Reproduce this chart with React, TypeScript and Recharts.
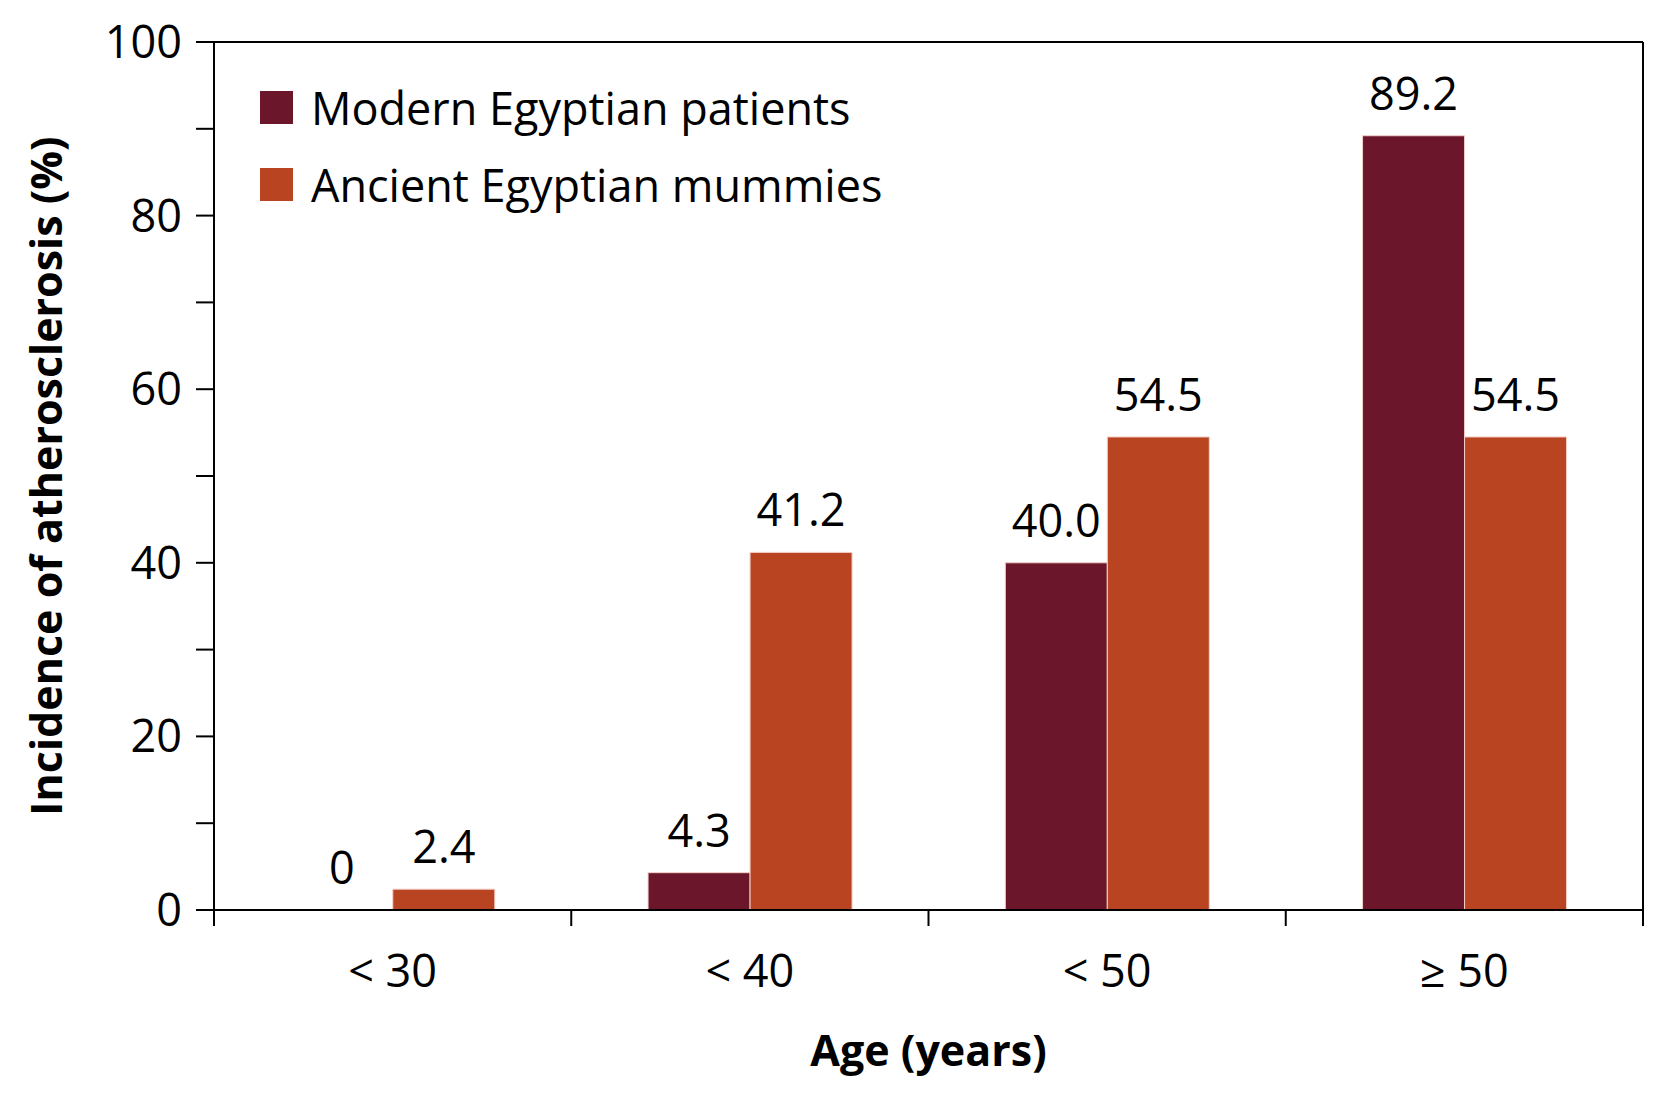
import { BarChart, Bar, XAxis, YAxis, Legend, LabelList, Cell } from 'recharts';

const ageGroups = ['< 30', '< 40', '< 50', '≥ 50'];
const modernPatients = [0, 4.3, 40.0, 89.2];
const ancientMummies = [2.4, 41.2, 54.5, 54.5];
const seriesNames = ['Modern Egyptian patients', 'Ancient Egyptian mummies'];
const yTicks = [0, 10, 20, 30, 40, 50, 60, 70, 80, 90, 100];
const groupEdges = [0, 1, 2, 3, 4];

const data = ageGroups.map((age, i) => ({
  age,
  modern: modernPatients[i],
  ancient: ancientMummies[i],
}));

const MODERN = '#6C162B';
const ANCIENT = '#B94422';
const EDGE = '#f3d0c8';
const FONT = '"Open Sans", sans-serif';

const fmtValue = (v: number) => (v === 0 ? '0' : v.toFixed(1));
// keep zero bars in the layout so their "0" label is still drawn
const keepZero = (v: number) => (v === 0 ? 0.5 : 0);
// group index on a continuous scale, used only for the boundary ticks
const groupIndex = (d: any) => ageGroups.indexOf(d.age) + 0.5;

function renderLegend(props: any) {
  const payload = [...(props.payload || [])].sort(
    (a: any, b: any) => seriesNames.indexOf(a.value) - seriesNames.indexOf(b.value)
  );
  return (
    <div style={{ fontFamily: FONT, fontSize: 45, color: '#000' }}>
      {payload.map((entry: any) => (
        <div key={entry.value} style={{ display: 'flex', alignItems: 'center', height: 77 }}>
          <span style={{ width: 33, height: 33, background: entry.color, marginRight: 18, display: 'inline-block' }} />
          <span style={{ whiteSpace: 'nowrap' }}>{entry.value}</span>
        </div>
      ))}
    </div>
  );
}

function YTitle(props: any) {
  const vb = props.viewBox;
  const cx = vb.x + 45;
  const cy = vb.y + vb.height / 2;
  return (
    <text
      x={cx}
      y={cy}
      transform={`rotate(-90 ${cx} ${cy})`}
      textAnchor="middle"
      dominantBaseline="central"
      fontFamily={FONT}
      fontSize={43}
      fontWeight={700}
      fill="#000"
    >
      Incidence of atherosclerosis (%)
    </text>
  );
}

export default function App() {
  return (
    <div style={{ position: 'absolute', left: 0, top: 0, width: 1666, height: 1114, background: '#fff', fontFamily: FONT }}>
      <BarChart
        width={1666}
        height={1114}
        data={data}
        margin={{ top: 41, right: 22, bottom: 0, left: 0 }}
        barCategoryGap="21.5%"
        barGap={0}
      >
        {/* group boundary ticks along the bottom */}
        <XAxis
          xAxisId={0}
          type="number"
          scale="linear"
          dataKey={groupIndex}
          domain={[0, 4]}
          ticks={groupEdges}
          interval={0}
          allowDataOverflow
          height={1}
          tickFormatter={() => ''}
          tickSize={16}
          axisLine={{ stroke: '#000', strokeWidth: 2 }}
          tickLine={{ stroke: '#000', strokeWidth: 2 }}
        />
        <XAxis
          xAxisId="cat"
          dataKey="age"
          height={203}
          axisLine={false}
          tickLine={false}
          tickSize={0}
          tickMargin={44}
          tick={{ fill: '#000', fontSize: 45, fontFamily: FONT }}
          label={{ value: 'Age (years)', position: 'insideBottom', offset: 48, fill: '#000', fontSize: 43, fontWeight: 700, fontFamily: FONT }}
        />
        <XAxis
          xAxisId="top"
          orientation="top"
          type="number"
          domain={[0, 1]}
          height={1}
          tick={false}
          tickLine={false}
          axisLine={{ stroke: '#000', strokeWidth: 2 }}
        />
        <YAxis
          domain={[0, 100]}
          ticks={yTicks}
          interval={0}
          width={214}
          tickSize={18}
          tickMargin={14}
          tickFormatter={(v: number) => (v % 20 === 0 ? String(v) : '')}
          tick={{ fill: '#000', fontSize: 45, fontFamily: FONT }}
          axisLine={{ stroke: '#000', strokeWidth: 2 }}
          tickLine={{ stroke: '#000', strokeWidth: 2 }}
          label={{ content: YTitle }}
        />
        <YAxis
          yAxisId="right"
          orientation="right"
          width={1}
          domain={[0, 100]}
          tick={false}
          tickLine={false}
          axisLine={{ stroke: '#000', strokeWidth: 2 }}
        />
        <Legend
          layout="vertical"
          align="center"
          verticalAlign="middle"
          content={renderLegend}
          wrapperStyle={{ left: 260, top: 69, width: 'auto' }}
        />
        <Bar xAxisId="cat" dataKey="modern" name={seriesNames[0]} fill={MODERN} strokeWidth={1} minPointSize={keepZero} isAnimationActive={false}>
          {modernPatients.map((v, i) => (
            <Cell key={i} stroke={v === 0 ? 'none' : EDGE} fill={v === 0 ? 'none' : MODERN} />
          ))}
          <LabelList dataKey="modern" position="top" offset={26} formatter={fmtValue} fill="#000" fontSize={45} fontFamily={FONT} />
        </Bar>
        <Bar xAxisId="cat" dataKey="ancient" name={seriesNames[1]} fill={ANCIENT} stroke={EDGE} strokeWidth={1} isAnimationActive={false}>
          <LabelList dataKey="ancient" position="top" offset={26} formatter={fmtValue} fill="#000" fontSize={45} fontFamily={FONT} />
        </Bar>
      </BarChart>
    </div>
  );
}
